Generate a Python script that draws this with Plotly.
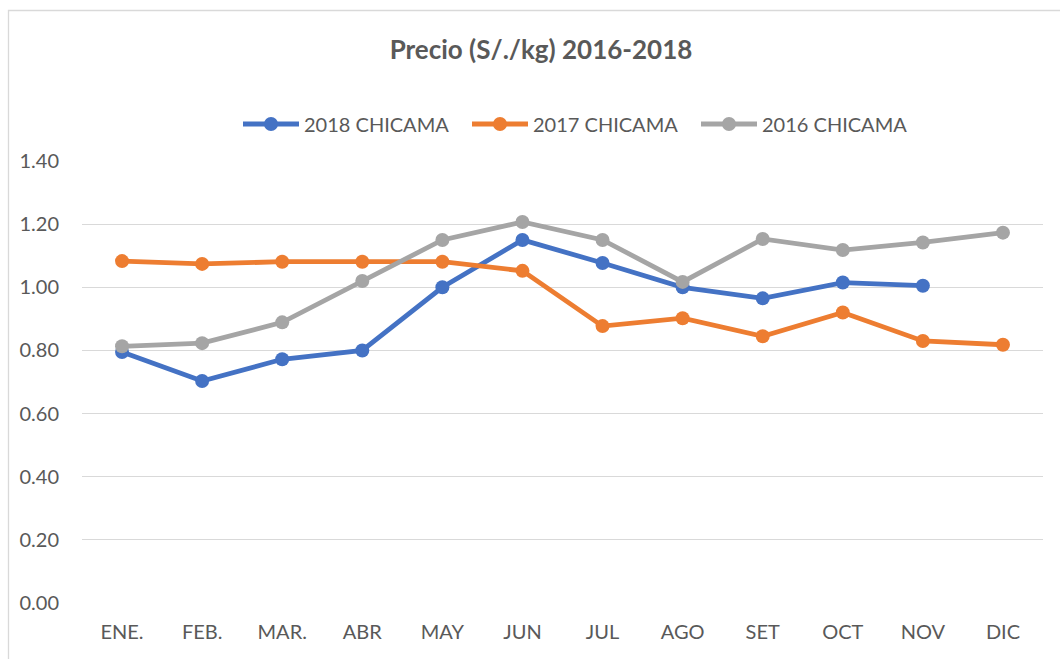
import plotly.graph_objects as go

months = ["ENE.", "FEB.", "MAR.", "ABR", "MAY", "JUN", "JUL", "AGO", "SET", "OCT", "NOV", "DIC"]
s2018 = [0.795, 0.703, 0.772, 0.800, 1.000, 1.150, 1.077, 1.000, 0.965, 1.015, 1.005, None]
s2017 = [1.083, 1.074, 1.081, 1.081, 1.081, 1.052, 0.877, 0.902, 0.845, 0.920, 0.830, 0.818]
s2016 = [0.813, 0.823, 0.889, 1.020, 1.150, 1.207, 1.150, 1.017, 1.153, 1.118, 1.142, 1.173]

series = [
    ("2018 CHICAMA", s2018, "#4472C4"),
    ("2017 CHICAMA", s2017, "#ED7D31"),
    ("2016 CHICAMA", s2016, "#A5A5A5"),
]

FONT = "Lato, 'Open Sans', sans-serif"

fig = go.Figure()
for name, vals, col in series:
    fig.add_trace(go.Scatter(
        x=months, y=vals, name=name, mode="lines+markers",
        line=dict(color=col, width=4.8),
        marker=dict(color=col, size=14),
    ))

W, H = 1060, 659
ml, mr, mt, mb = 82, 17, 161, 56
pw, ph = W - ml - mr, H - mt - mb

def px(x):
    return (x - ml) / pw

def py(y):
    return (H - mb - y) / ph

fig.update_layout(
    width=W, height=H,
    margin=dict(l=ml, r=mr, t=mt, b=mb),
    paper_bgcolor="white", plot_bgcolor="white",
    font=dict(family=FONT, color="#595959", size=20),
    title=dict(text="<b>Precio (S/./kg) 2016-2018</b>", x=541 / W, xanchor="center",
               y=1 - 50 / H, yanchor="middle",
               font=dict(size=26, color="#595959", family=FONT)),
    legend=dict(orientation="h", x=px(238), xanchor="left", y=py(124), yanchor="middle",
                font=dict(size=20, color="#595959"), itemwidth=56, entrywidth=158,
                traceorder="normal"),
    showlegend=True,
    xaxis=dict(type="category", range=[-0.5, 11.5], showgrid=False, showline=False,
               zeroline=False, ticks="", tickfont=dict(size=20, color="#595959"),
               ticklabelstandoff=15),
    yaxis=dict(range=[0, 1.4], dtick=0.2, tickformat=".2f", showgrid=True,
               gridcolor="#D9D9D9", gridwidth=1.3, zeroline=False, showline=False,
               ticks="", tickfont=dict(size=20, color="#595959"), ticklabelstandoff=22),
    shapes=[dict(type="rect", xref="paper", yref="paper",
                 x0=px(8.5), x1=px(1075), y0=py(680), y1=py(10.5),
                 line=dict(color="#D9D9D9", width=1.3), fillcolor="rgba(0,0,0,0)", layer="below")],
)

fig.write_html("out.html", config={"displayModeBar": False},
               post_script="document.body.style.margin='0';")
